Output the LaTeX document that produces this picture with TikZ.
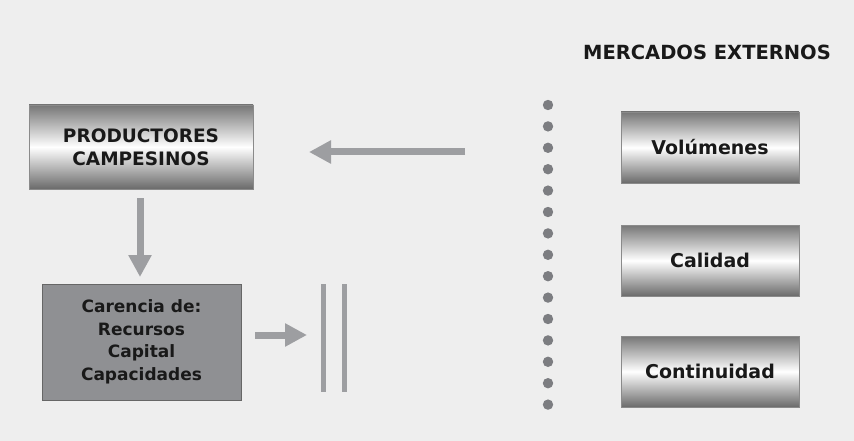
\documentclass[tikz,border=0pt]{standalone}
\usepackage{fontspec}
\setmainfont{DejaVu Sans}
\usetikzlibrary{arrows.meta}
\definecolor{bg}{HTML}{EEEEEE}
\definecolor{arr}{HTML}{9D9EA1}
\definecolor{dotc}{HTML}{7C7D81}
\definecolor{boxedge}{HTML}{8A8A8A}
\definecolor{shadedark}{HTML}{767676}
\definecolor{carfill}{HTML}{8F9093}
\tikzset{
  shbox/.style={draw=boxedge, line width=0.8pt, top color=shadedark, bottom color=shadedark!90!black, middle color=white, text=black!90, align=center, inner sep=0pt},
  bigarrow/.style={draw=arr, line width=7pt, -{Triangle[length=22pt,width=22pt]}},
  bar/.style={draw=arr, line width=5pt},
}
\begin{document}
\begin{tikzpicture}[x=1pt,y=-1pt]
\fill[bg] (0,0) rectangle (854,441);
\useasboundingbox (0,0) rectangle (854,441);
\node[shbox, minimum width=224pt, minimum height=84pt, font=\bfseries\fontsize{18.5}{23}\selectfont] (prod) at (141,147) {PRODUCTORES\\CAMPESINOS};
\node[draw=black!60, line width=0.8pt, fill=carfill, minimum width=199pt, minimum height=116pt, inner sep=0pt, align=center, font=\bfseries\fontsize{17}{22.5}\selectfont, text=black!90] (car) at (141.5,342) {Carencia de:\\Recursos\\Capital\\Capacidades};
\node[shbox, minimum width=178pt, minimum height=71pt, font=\bfseries\fontsize{19}{23}\selectfont] (vol) at (710,147.5) {Volúmenes};
\node[shbox, minimum width=178pt, minimum height=71pt, font=\bfseries\fontsize{19}{23}\selectfont] (cal) at (710,260.5) {Calidad};
\node[shbox, minimum width=178pt, minimum height=71pt, font=\bfseries\fontsize{19}{23}\selectfont] (con) at (710,371.5) {Continuidad};
\node[font=\bfseries\fontsize{19.5}{23}\selectfont, text=black!90] (merc) at (707,52) {MERCADOS EXTERNOS};
\coordinate (la) at (465,152);
\coordinate (lb) at (309,152);
\draw[bigarrow] (la) -- (lb);
\coordinate (da) at (140,198);
\coordinate (db) at (140,277);
\draw[bigarrow] (da) -- (db);
\coordinate (ra) at (255,335);
\coordinate (rb) at (307,335);
\draw[bigarrow] (ra) -- (rb);
\coordinate (b1a) at (323,284);
\coordinate (b1b) at (323,392);
\coordinate (b2a) at (344,284);
\coordinate (b2b) at (344,392);
\draw[bar] (b1a) -- (b1b);
\draw[bar] (b2a) -- (b2b);
\foreach \i in {0,...,14} {
  \fill[dotc] (548,{105+\i*21.4}) circle (5.2pt);
}
\end{tikzpicture}
\end{document}
